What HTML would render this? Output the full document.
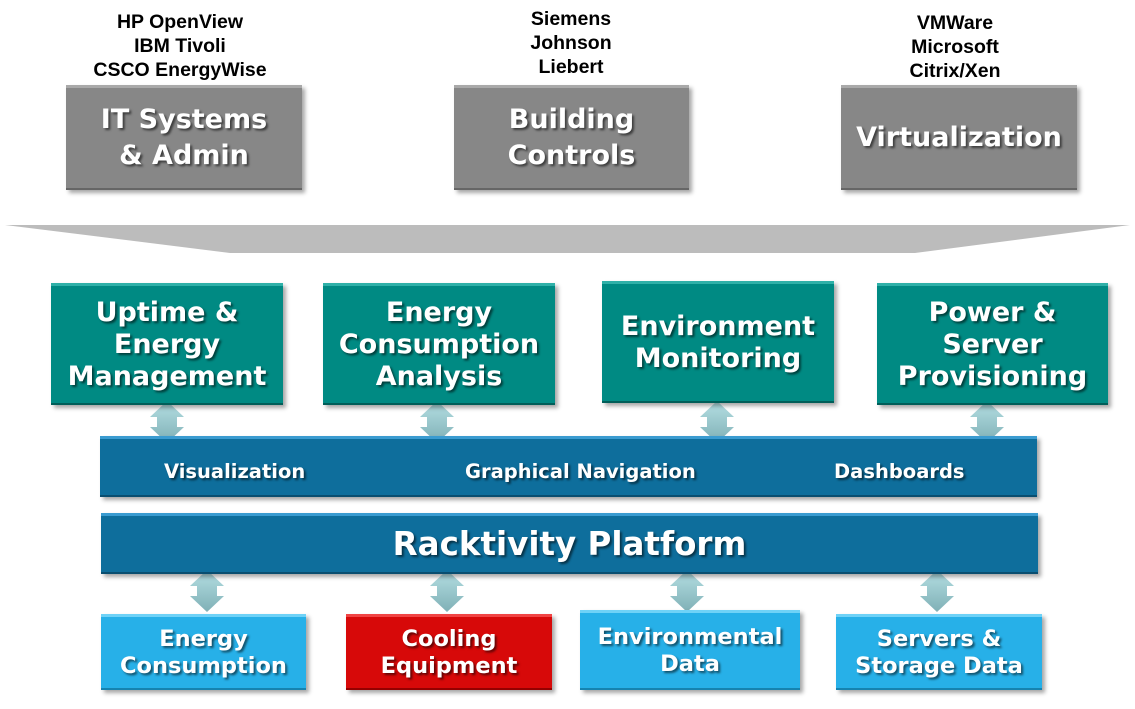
<!DOCTYPE html>
<html><head><meta charset="utf-8"><style>
body{margin:0;width:1135px;height:709px;background:#fff;position:relative;overflow:hidden;font-family:"DejaVu Sans",Verdana,sans-serif;}
.b{position:absolute;box-sizing:border-box;color:#fff;font-weight:bold;display:flex;align-items:center;justify-content:center;text-align:center;text-shadow:2px 2px 2px rgba(0,0,0,.55);box-shadow:3px 3px 4px rgba(0,0,0,.35);}
.g{background:#878787;border-top:3px solid #a9a9a9;border-bottom:2px solid #666;font-size:27px;line-height:36px;}
.t{background:#008a83;border-top:3px solid #2fb0a8;border-bottom:2px solid #005e59;font-size:27px;line-height:32px;}
.d{background:#0e6e9c;border-top:3px solid #3a9bd0;border-bottom:2px solid #094e70;}
.l{background:#27b0e8;border-top:3px solid #6fd2f7;border-bottom:2px solid #1583b0;font-size:22.5px;line-height:27px;}
.r{background:#d70909;border-top:3px solid #f04444;border-bottom:2px solid #950000;font-size:22.5px;line-height:27px;}
.top{position:absolute;font-family:"Liberation Sans",Arial,sans-serif;font-weight:bold;font-size:19.5px;line-height:24px;text-align:center;color:#000;}
.s{position:absolute;color:#fff;font-weight:bold;font-size:19.5px;text-shadow:2px 2px 2px rgba(0,0,0,.55);}
</style></head><body>
<div class="top" style="left:80px;width:200px;top:10px">HP OpenView<br>IBM Tivoli<br>CSCO EnergyWise</div>
<div class="top" style="left:471px;width:200px;top:7px">Siemens<br>Johnson<br>Liebert</div>
<div class="top" style="left:855px;width:200px;top:11px">VMWare<br>Microsoft<br>Citrix/Xen</div>
<div class="b g" style="left:66px;top:85px;width:236px;height:105px">IT Systems<br>&amp; Admin</div>
<div class="b g" style="left:454px;top:85px;width:235px;height:105px">Building<br>Controls</div>
<div class="b g" style="left:841px;top:85px;width:236px;height:105px">Virtualization</div>
<svg style="position:absolute;left:0;top:0" width="1135" height="709">
<defs><linearGradient id="ag" x1="0" y1="0" x2="0" y2="1"><stop offset="0" stop-color="#b5dfe3"/><stop offset="1" stop-color="#7fb0b6"/></linearGradient></defs>
<polygon points="5,225 1130,225 915,253 230,253" fill="#bcbcbc"/>
<g fill="url(#ag)">
<polygon points="167,401 184,417 177,417 177,427 184,427 167,443 150,427 157,427 157,417 150,417"/>
<polygon points="437,401 454,417 447,417 447,427 454,427 437,443 420,427 427,427 427,417 420,417"/>
<polygon points="717,401 734,417 727,417 727,427 734,427 717,443 700,427 707,427 707,417 700,417"/>
<polygon points="987,401 1004,417 997,417 997,427 1004,427 987,443 970,427 977,427 977,417 970,417"/>
<polygon points="207,570 224,586 217,586 217,596 224,596 207,612 190,596 197,596 197,586 190,586"/>
<polygon points="447,570 464,586 457,586 457,596 464,596 447,612 430,596 437,596 437,586 430,586"/>
<polygon points="687,570 704,586 697,586 697,596 704,596 687,612 670,596 677,596 677,586 670,586"/>
<polygon points="937,570 954,586 947,586 947,596 954,596 937,612 920,596 927,596 927,586 920,586"/>
</g></svg>
<div class="b t" style="left:51px;top:283px;width:232px;height:122px">Uptime &amp;<br>Energy<br>Management</div>
<div class="b t" style="left:323px;top:283px;width:232px;height:122px">Energy<br>Consumption<br>Analysis</div>
<div class="b t" style="left:602px;top:281px;width:232px;height:122px">Environment<br>Monitoring</div>
<div class="b t" style="left:877px;top:283px;width:231px;height:122px">Power &amp;<br>Server<br>Provisioning</div>
<div class="b d" style="left:100px;top:436px;width:937px;height:61px"></div>
<div class="s" style="left:164px;top:460px">Visualization</div>
<div class="s" style="left:465px;top:460px">Graphical Navigation</div>
<div class="s" style="left:834px;top:460px">Dashboards</div>
<div class="b d" style="left:101px;top:513px;width:937px;height:61px;font-size:32.5px">Racktivity Platform</div>
<div class="b l" style="left:101px;top:614px;width:205px;height:76px">Energy<br>Consumption</div>
<div class="b r" style="left:346px;top:614px;width:206px;height:76px">Cooling<br>Equipment</div>
<div class="b l" style="left:580px;top:610px;width:220px;height:80px">Environmental<br>Data</div>
<div class="b l" style="left:836px;top:614px;width:206px;height:76px">Servers &amp;<br>Storage Data</div>
</body></html>
